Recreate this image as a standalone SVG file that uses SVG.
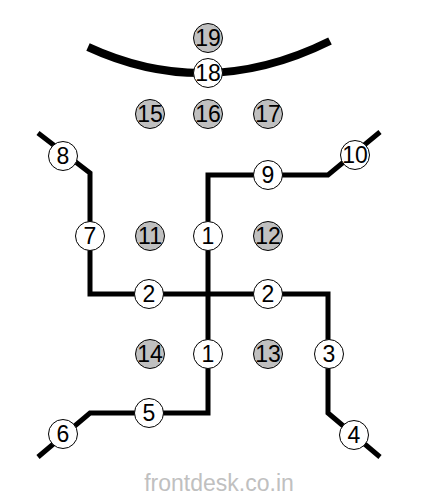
<svg xmlns="http://www.w3.org/2000/svg" width="429" height="500" viewBox="0 0 429 500">
<style>
.w{fill:#fff;stroke:#000;stroke-width:1}
.g{fill:#c0c0c0;stroke:#000;stroke-width:1}
text{font-family:"Liberation Sans",Arial,sans-serif;font-size:23px;text-anchor:middle;fill:#000}
.ln{fill:none;stroke:#000;stroke-width:5;stroke-linejoin:miter}
</style>
<rect width="429" height="500" fill="#fff"/>
<g id="connectors">
<path class="ln" d="M88,47 Q207,102 330,41" style="stroke-width:8"/>
<path class="ln" d="M38,133 L90,173 L90,294 L328,294 L328,413 L380,457"/>
<path class="ln" d="M380,132 L328,175 L208,175 L208,413 L90,413 L38,457"/>
</g>
<g id="n19"><circle class="g" cx="208" cy="38" r="14.5"/><text x="208" y="46">19</text></g>
<g id="n18"><circle class="w" cx="208" cy="73" r="14.5"/><text x="208" y="81">18</text></g>
<g id="n15"><circle class="g" cx="150" cy="114" r="14.5"/><text x="150" y="122">15</text></g>
<g id="n16"><circle class="g" cx="208" cy="114" r="14.5"/><text x="208" y="122">16</text></g>
<g id="n17"><circle class="g" cx="268" cy="114" r="14.5"/><text x="268" y="122">17</text></g>
<g id="n8"><circle class="w" cx="63" cy="156" r="14.5"/><text x="63" y="164">8</text></g>
<g id="n9"><circle class="w" cx="268" cy="175" r="14.5"/><text x="268" y="183">9</text></g>
<g id="n10"><circle class="w" cx="355" cy="155" r="14.5"/><text x="355" y="163">10</text></g>
<g id="n7"><circle class="w" cx="90" cy="236" r="14.5"/><text x="90" y="244">7</text></g>
<g id="n11"><circle class="g" cx="150" cy="236" r="14.5"/><text x="150" y="244">11</text></g>
<g id="n1a"><circle class="w" cx="208" cy="236" r="14.5"/><text x="208" y="244">1</text></g>
<g id="n12"><circle class="g" cx="268" cy="236" r="14.5"/><text x="268" y="244">12</text></g>
<g id="n2a"><circle class="w" cx="149" cy="294" r="14.5"/><text x="149" y="302">2</text></g>
<g id="n2b"><circle class="w" cx="268" cy="294" r="14.5"/><text x="268" y="302">2</text></g>
<g id="n14"><circle class="g" cx="150" cy="354" r="14.5"/><text x="150" y="362">14</text></g>
<g id="n1b"><circle class="w" cx="208" cy="354" r="14.5"/><text x="208" y="362">1</text></g>
<g id="n13"><circle class="g" cx="268" cy="354" r="14.5"/><text x="268" y="362">13</text></g>
<g id="n3"><circle class="w" cx="329" cy="354" r="14.5"/><text x="329" y="362">3</text></g>
<g id="n5"><circle class="w" cx="149" cy="413" r="14.5"/><text x="149" y="421">5</text></g>
<g id="n6"><circle class="w" cx="63" cy="434" r="14.5"/><text x="63" y="442">6</text></g>
<g id="n4"><circle class="w" cx="354" cy="435" r="14.5"/><text x="354" y="443">4</text></g>
<text x="219" y="491" style="fill:#c0c0c0;font-size:23px">frontdesk.co.in</text>
</svg>
